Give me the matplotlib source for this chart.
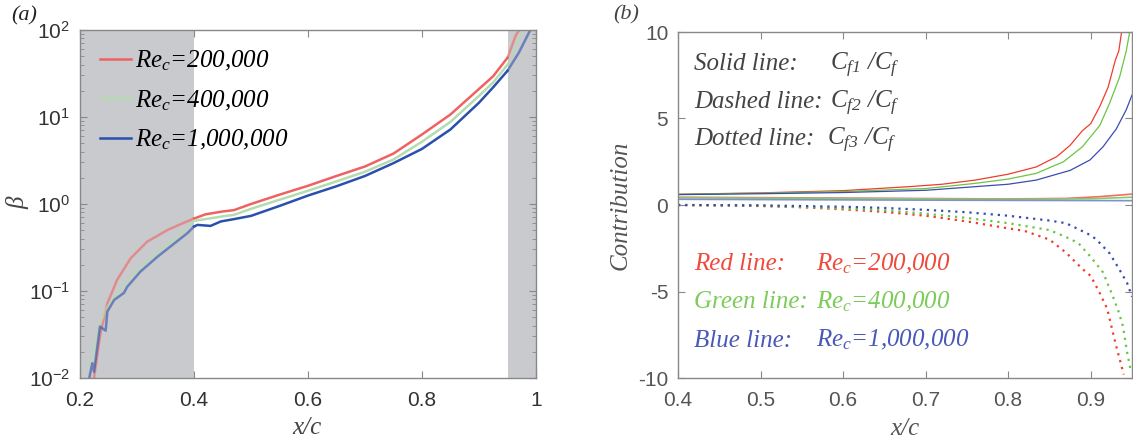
import matplotlib
matplotlib.use("Agg")
import matplotlib.pyplot as plt
import numpy as np

plt.rcParams['mathtext.fontset'] = 'custom'
plt.rcParams['mathtext.rm'] = 'Liberation Serif:italic'
plt.rcParams['mathtext.it'] = 'Liberation Serif:italic'
plt.rcParams['mathtext.sf'] = 'Liberation Sans'
plt.rcParams['axes.unicode_minus'] = False

# ---- panel (a): beta vs x/c ----
red_x = [0.2246, 0.236, 0.248, 0.265, 0.289, 0.318, 0.353, 0.38, 0.40, 0.42, 0.45, 0.47,
         0.5, 0.55, 0.6, 0.65, 0.7, 0.75, 0.8, 0.85, 0.9, 0.925, 0.95, 0.965, 0.975]
red_b = [0.01, 0.033, 0.072, 0.134, 0.238, 0.37, 0.50, 0.6, 0.68, 0.76, 0.82, 0.85,
         1.0, 1.28, 1.62, 2.1, 2.7, 3.8, 6.3, 10.7, 21, 29.5, 48, 88, 110]

green_x = [0.2175, 0.233, 0.248, 0.277, 0.306, 0.342, 0.371, 0.40, 0.45, 0.47, 0.5, 0.55,
           0.6, 0.65, 0.7, 0.75, 0.8, 0.85, 0.9, 0.925, 0.95, 0.965, 0.978]
green_b = [0.0135, 0.039, 0.066, 0.117, 0.19, 0.30, 0.42, 0.64, 0.72, 0.75, 0.88, 1.12,
           1.42, 1.82, 2.35, 3.25, 5.2, 8.8, 17.5, 25, 40, 62, 105]

blue_x = [0.216, 0.2216, 0.2246, 0.235, 0.245, 0.248, 0.26, 0.277, 0.283, 0.306, 0.336,
          0.365, 0.388, 0.40, 0.406, 0.429, 0.447, 0.47, 0.5, 0.55, 0.6, 0.65, 0.7, 0.75,
          0.8, 0.85, 0.9, 0.925, 0.95, 0.97, 0.99]
blue_b = [0.0098, 0.0148, 0.0118, 0.039, 0.035, 0.058, 0.079, 0.095, 0.112, 0.167, 0.248,
          0.35, 0.46, 0.55, 0.575, 0.56, 0.63, 0.67, 0.73, 0.95, 1.25, 1.6, 2.1, 2.95,
          4.3, 7.2, 14.6, 22, 34, 55, 100]

re_labels = [r'$Re_c$=200,000', r'$Re_c$=400,000', r'$Re_c$=1,000,000']
colors_a = ['#f06262', '#b4dcb0', '#2a4fae']

# ---- panel (b): contributions ----
s_red_x = [0.4, 0.5, 0.6, 0.68, 0.72, 0.76, 0.8, 0.834, 0.859, 0.875, 0.89, 0.9, 0.911,
           0.921, 0.93, 0.934, 0.938]
s_red_y = [0.62, 0.7, 0.83, 1.06, 1.2, 1.44, 1.78, 2.2, 2.8, 3.45, 4.3, 4.7, 5.7, 6.8,
           8.4, 8.9, 10.2]
s_green_x = [0.4, 0.5, 0.6, 0.7, 0.76, 0.8, 0.834, 0.867, 0.89, 0.911, 0.923, 0.935, 0.943, 0.948]
s_green_y = [0.62, 0.68, 0.78, 0.95, 1.25, 1.5, 1.83, 2.5, 3.37, 4.6, 5.9, 7.4, 8.9, 10.2]
s_blue_x = [0.4, 0.5, 0.6, 0.7, 0.76, 0.8, 0.834, 0.875, 0.899, 0.915, 0.931, 0.943, 0.95]
s_blue_y = [0.6, 0.65, 0.72, 0.85, 1.06, 1.2, 1.44, 2.0, 2.6, 3.37, 4.4, 5.5, 6.35]

d_red_x = [0.4, 0.6, 0.8, 0.87, 0.91, 0.95]
d_red_y = [0.45, 0.40, 0.35, 0.38, 0.48, 0.63]
d_green_x = [0.4, 0.8, 0.9, 0.95]
d_green_y = [0.42, 0.33, 0.36, 0.45]
d_blue_x = [0.4, 0.7, 0.95]
d_blue_y = [0.33, 0.28, 0.25]

o_red_x = [0.4, 0.45, 0.5, 0.55, 0.6, 0.65, 0.7, 0.75, 0.8, 0.82, 0.85, 0.87, 0.89, 0.9,
           0.91, 0.92, 0.925, 0.93, 0.935, 0.94]
o_red_y = [0.0, -0.02, -0.06, -0.13, -0.25, -0.4, -0.62, -0.95, -1.35, -1.5, -2.0, -2.75,
           -3.7, -4.1, -5.0, -6.0, -7.0, -8.0, -8.9, -9.8]
o_green_x = [0.4, 0.5, 0.6, 0.65, 0.7, 0.75, 0.8, 0.85, 0.87, 0.885, 0.9, 0.915, 0.927,
             0.934, 0.939, 0.944, 0.949]
o_green_y = [0.0, -0.04, -0.2, -0.3, -0.5, -0.75, -1.05, -1.45, -1.85, -2.2, -3.0, -3.9,
             -5.3, -6.2, -7.0, -8.5, -9.7]
o_blue_x = [0.4, 0.5, 0.6, 0.65, 0.7, 0.75, 0.8, 0.85, 0.87, 0.883, 0.9, 0.907, 0.923,
            0.935, 0.944, 0.95]
o_blue_y = [0.0, -0.02, -0.1, -0.17, -0.28, -0.42, -0.62, -0.9, -1.05, -1.35, -1.75, -2.0,
            -2.8, -3.75, -4.5, -5.3]

colors_b = ['#f03c2c', '#6cc444', '#3a4cb0']
text_colors_b = ['#ef4b3c', '#7ccc5a', '#4a59b8']

serif = dict(family='Liberation Serif', style='italic')
tick_col = '#333333'
spine_col = '#888888'

fig = plt.figure(figsize=(11.33, 4.44), dpi=100)
W, H = 1133, 444

def style_axes(ax, col):
    for sp in ax.spines.values():
        sp.set_color(spine_col)
        sp.set_linewidth(1.0)
    ax.tick_params(which='both', direction='in', top=True, right=True, colors=spine_col,
                   labelcolor=col, labelsize=15)
    ax.tick_params(which='major', length=5)
    ax.tick_params(which='minor', length=3)
    ax.tick_params(axis='x', pad=9)
    ax.tick_params(axis='y', pad=7)
    for lab in ax.get_xticklabels() + ax.get_yticklabels():
        lab.set_family('Liberation Sans')

# panel (a)
ax1 = fig.add_axes([80 / W, 1 - 378 / H, 456 / W, 348 / H])
ax1.set_yscale('log')
ax1.set_xlim(0.2, 1.0)
ax1.set_ylim(1e-2, 1e2)
ax1.axvspan(0.2, 0.4, color='#c9cacd', lw=0, zorder=0)
ax1.axvspan(0.95, 1.0, color='#c9cacd', lw=0, zorder=0)
for xs, ys, c, lab in zip([red_x, green_x, blue_x], [red_b, green_b, blue_b], colors_a, re_labels):
    xs = np.array(xs)
    ys = np.array(ys)
    m_in = (xs >= 0.4) & (xs <= 0.95)
    m_l = xs <= 0.4
    m_r = xs >= 0.95
    ax1.plot(xs[m_l], ys[m_l], color=c, lw=1.8, alpha=0.6, zorder=2)
    ax1.plot(xs[m_r], ys[m_r], color=c, lw=1.8, alpha=0.6, zorder=2)
    ax1.plot(xs[m_in], ys[m_in], color=c, lw=1.8, zorder=3, label=lab)
ax1.set_xticks([0.2, 0.4, 0.6, 0.8, 1.0])
ax1.set_xticklabels(['0.2', '0.4', '0.6', '0.8', '1'])
ax1.set_yticks([1e-2, 1e-1, 1e0, 1e1, 1e2])
ax1.set_yticklabels([r'$\mathsf{10^{-2}}$', r'$\mathsf{10^{-1}}$', r'$\mathsf{10^{0}}$',
                     r'$\mathsf{10^{1}}$', r'$\mathsf{10^{2}}$'])
style_axes(ax1, tick_col)
leg = ax1.legend(loc='upper left', bbox_to_anchor=(0.022, 0.975), frameon=False,
                 prop=dict(family='Liberation Serif', style='italic', size=18),
                 handlelength=1.25, handletextpad=0.15, labelspacing=0.62, borderaxespad=0)

fig.text(24 / W, 1 - 16 / H, '(a)', ha='center', va='center', fontsize=16, color='#222222', **serif)
fig.text(18 / W, 1 - 203 / H, 'β', ha='center', va='center', fontsize=18, color='#444444',
         rotation=90, **serif)
fig.text(307 / W, 1 - 428 / H, 'x/c', ha='center', va='center', fontsize=18, color='#444444', **serif)

# panel (b)
ax2 = fig.add_axes([678 / W, 1 - 378 / H, 454 / W, 346 / H])
ax2.set_xlim(0.4, 0.95)
ax2.set_ylim(-10, 10)
for xs, ys, c in zip([s_red_x, s_green_x, s_blue_x], [s_red_y, s_green_y, s_blue_y], colors_b):
    ax2.plot(xs, ys, color=c, lw=0.9)
for xs, ys, c in zip([d_red_x, d_green_x, d_blue_x], [d_red_y, d_green_y, d_blue_y],
                     ['#f07060', '#88cc66', '#8090d0']):
    ax2.plot(xs, ys, color=c, lw=1.2)
for xs, ys, c in zip([o_red_x, o_green_x, o_blue_x], [o_red_y, o_green_y, o_blue_y], colors_b):
    ax2.plot(xs, ys, color=c, lw=1.6, ls=(0, (1, 2.2)))
ax2.set_xticks([0.4, 0.5, 0.6, 0.7, 0.8, 0.9])
ax2.set_xticklabels(['0.4', '0.5', '0.6', '0.7', '0.8', '0.9'])
ax2.set_yticks([-10, -5, 0, 5, 10])
ax2.set_yticklabels(['-10', '-5', '0', '5', '10'])
style_axes(ax2, '#555555')

gray_txt = '#444444'
ax2.text(0.4194, 7.78, 'Solid line:', color=gray_txt, fontsize=18, va='baseline', **serif)
ax2.text(0.4194, 5.58, 'Dashed line:', color=gray_txt, fontsize=18, va='baseline', **serif)
ax2.text(0.4194, 3.44, 'Dotted line:', color=gray_txt, fontsize=18, va='baseline', **serif)
ax2.text(0.584, 7.78, r'$C_{f1}$ /$C_f$', color=gray_txt, fontsize=18, va='baseline', **serif)
ax2.text(0.584, 5.58, r'$C_{f2}$ /$C_f$', color=gray_txt, fontsize=18, va='baseline', **serif)
ax2.text(0.581, 3.44, r'$C_{f3}$ /$C_f$', color=gray_txt, fontsize=18, va='baseline', **serif)

names = ['Red line:', 'Green line:', 'Blue line:']
ybase = [-3.78, -5.98, -8.18]
for nm, lab, c, yb in zip(names, re_labels, text_colors_b, ybase):
    ax2.text(0.4194, yb, nm, color=c, fontsize=18, va='baseline', **serif)
    ax2.text(0.567, yb, lab, color=c, fontsize=18, va='baseline', **serif)

fig.text(626 / W, 1 - 15 / H, '(b)', ha='center', va='center', fontsize=16, color='#444444', **serif)
fig.text(621 / W, 1 - 205 / H, 'Contribution', ha='center', va='center', fontsize=18,
         color='#555555', rotation=90, **serif)
fig.text(905 / W, 1 - 429 / H, 'x/c', ha='center', va='center', fontsize=18, color='#555555', **serif)

fig.savefig('out.png', dpi=100)
